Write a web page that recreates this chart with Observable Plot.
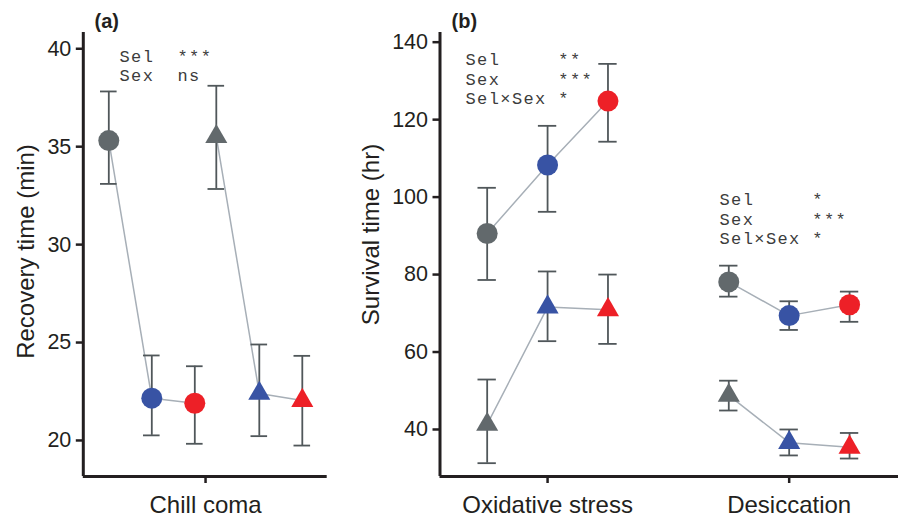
<!DOCTYPE html>
<html>
<head>
<meta charset="utf-8">
<script src="https://cdn.jsdelivr.net/npm/d3@7"></script>
<script src="https://cdn.jsdelivr.net/npm/@observablehq/plot@0.6"></script>
<style>
html, body { margin: 0; padding: 0; background: #fff; }
#chart { position: relative; width: 901px; height: 517px; overflow: hidden; }
#chart svg { position: absolute; top: 0; overflow: visible; }
#chart text { white-space: pre; }
</style>
</head>
<body>
<div id="chart"></div>
<script>
// ---------- data ----------
const selections = ["Control", "Selected A", "Selected B"];
const selectionColors = ["#62696c", "#3853a4", "#ed2027"];
const sexes = ["Female", "Male"]; // circles = Female, triangles = Male

// (a) Chill coma recovery time (min)
const chillFemaleMean = [35.31, 22.16, 21.90];
const chillFemaleLo   = [33.10, 20.26, 19.83];
const chillFemaleHi   = [37.82, 24.34, 23.79];
const chillMaleMean   = [35.51, 22.40, 22.04];
const chillMaleLo     = [32.84, 20.22, 19.74];
const chillMaleHi     = [38.11, 24.90, 24.32];

// (b) Oxidative stress survival time (hr)
const oxFemaleMean = [90.6, 108.3, 124.8];
const oxFemaleLo   = [78.6, 96.2, 114.3];
const oxFemaleHi   = [102.4, 118.4, 134.4];
const oxMaleMean   = [41.3, 71.6, 70.9];
const oxMaleLo     = [31.3, 62.8, 62.1];
const oxMaleHi     = [52.9, 80.8, 80.0];

// (b) Desiccation survival time (hr)
const desFemaleMean = [78.1, 69.4, 72.2];
const desFemaleLo   = [74.3, 65.7, 67.8];
const desFemaleHi   = [82.3, 73.1, 75.6];
const desMaleMean   = [48.8, 36.6, 35.4];
const desMaleLo     = [44.9, 33.3, 32.5];
const desMaleHi     = [52.6, 40.0, 39.1];

const panelATraits = ["Chill coma"];
const panelBTraits = ["Oxidative stress", "Desiccation"];
const panelAYTicks = [20, 25, 30, 35, 40];
const panelBYTicks = [40, 60, 80, 100, 120, 140];
const panelAYLabel = "Recovery time (min)";
const panelBYLabel = "Survival time (hr)";

const notesA  = "Sel  ***\nSex  ns";
const notesOx = "Sel     **\nSex     ***\nSel×Sex *";
const notesDe = "Sel     *\nSex     ***\nSel×Sex *";

// ---------- build tables ----------
function rows(trait, sex, mean, lo, hi) {
  return selections.map((s, i) => ({trait, sex, sel: s, i, mean: mean[i], lo: lo[i], hi: hi[i]}));
}
const dataA = [
  ...rows("Chill coma", "Female", chillFemaleMean, chillFemaleLo, chillFemaleHi),
  ...rows("Chill coma", "Male", chillMaleMean, chillMaleLo, chillMaleHi)
];
const dataB = [
  ...rows("Oxidative stress", "Female", oxFemaleMean, oxFemaleLo, oxFemaleHi),
  ...rows("Oxidative stress", "Male", oxMaleMean, oxMaleLo, oxMaleHi),
  ...rows("Desiccation", "Female", desFemaleMean, desFemaleLo, desFemaleHi),
  ...rows("Desiccation", "Male", desMaleMean, desMaleLo, desMaleHi)
];

const INK = "#231f20";
const EB = "#50575a";
const LINE = "#a7afb7";
const MONO = "'Liberation Mono', 'Courier New', monospace";

function makePanel(cfg) {
  const {data, xpos, xDomain, yDomain, yTicks, xTicks, xLabels, yLabel, yLabelDx, yLabelDy,
         tag, tagDx, notes, width, marginLeft, marginRight, capHalf} = cfg;
  const fem = data.filter(d => d.sex === "Female");
  const mal = data.filter(d => d.sex === "Male");
  return Plot.plot({
    width, height: 517,
    marginLeft, marginRight, marginTop: 32, marginBottom: 41,
    style: {fontFamily: "'Liberation Sans', Arial, sans-serif", color: INK, background: "transparent", overflow: "visible"},
    x: {type: "linear", domain: xDomain},
    y: {type: "linear", domain: yDomain},
    color: {domain: selections, range: selectionColors},
    marks: [
      Plot.line(data, {x: xpos, y: "mean", z: d => d.trait + "|" + d.sex, stroke: LINE, strokeWidth: 1.5}),
      Plot.ruleX(data, {x: xpos, y1: "lo", y2: "hi", stroke: EB, strokeWidth: 1.8}),
      Plot.ruleY(data, {y: "lo", x1: d => xpos(d) - capHalf, x2: d => xpos(d) + capHalf, stroke: EB, strokeWidth: 1.8}),
      Plot.ruleY(data, {y: "hi", x1: d => xpos(d) - capHalf, x2: d => xpos(d) + capHalf, stroke: EB, strokeWidth: 1.8}),
      Plot.dot(fem, {x: xpos, y: "mean", r: 10.5, symbol: "circle", fill: "sel", stroke: null}),
      Plot.dot(mal, {x: xpos, y: "mean", r: 8.2, symbol: "triangle", fill: "sel", stroke: null}),
      Plot.ruleX([xDomain[0]], {y1: yDomain[0], y2: yDomain[1], stroke: INK, strokeWidth: 3}),
      Plot.ruleY([yDomain[0]], {x1: xDomain[0], x2: xDomain[1], stroke: INK, strokeWidth: 3}),
      Plot.axisY(yTicks, {tickSize: 7, tickPadding: 5, fontSize: 21.5, strokeWidth: 2.5, label: null}),
      Plot.axisX(xTicks, {tickSize: 7, tickPadding: 12, fontSize: 24, strokeWidth: 2.5, label: null,
                          tickFormat: d => xLabels[xTicks.indexOf(d)]}),
      Plot.text([yLabel], {frameAnchor: "left", rotate: -90, textAnchor: "middle", lineAnchor: "bottom",
                           dx: yLabelDx, dy: yLabelDy, fontSize: 24, fill: INK}),
      Plot.text([tag], {frameAnchor: "top-left", textAnchor: "start", lineAnchor: "bottom", dx: tagDx, dy: -5,
                        fontSize: 20, fontWeight: "bold", fill: INK}),
      ...notes.map(n => Plot.text([n.text], {frameAnchor: "top-left", textAnchor: "start", lineAnchor: "top",
                        dx: n.dx, dy: n.dy, fontFamily: MONO,
                        fontSize: 17, lineHeight: 1.14, fill: "#3c3c3c"}))
    ]
  });
}

// panel (a): circles at 0,1,2 ; triangles shifted by 2.5 (layout offset)
const panelA = makePanel({
  data: dataA,
  xpos: d => d.i + (d.sex === "Male" ? 2.5 : 0),
  xDomain: [-0.593, 5.079],
  yDomain: [18.16, 40.83],
  yTicks: panelAYTicks,
  xTicks: [2.25],
  xLabels: panelATraits,
  yLabel: panelAYLabel, yLabelDx: -49.8, yLabelDy: -3,
  tag: "(a)", tagDx: 11.2,
  notes: [{text: notesA, dx: 36.2, dy: 15.8}],
  width: 340, marginLeft: 82.8, marginRight: 13.3,
  capHalf: 0.193
});
panelA.style.left = "0px";

// panel (b): traits 4 units apart, selections 1 unit apart
const panelB = makePanel({
  data: dataB,
  xpos: d => d.i + panelBTraits.indexOf(d.trait) * 4,
  xDomain: [-0.781, 6.81],
  yDomain: [27.86, 142.5],
  yTicks: panelBYTicks,
  xTicks: [1, 5],
  xLabels: panelBTraits,
  yLabel: panelBYLabel, yLabelDx: -61.5, yLabelDy: -20,
  tag: "(b)", tagDx: 11.5,
  notes: [{text: notesOx, dx: 25.5, dy: 19.2}, {text: notesDe, dx: 279.5, dy: 159.2}],
  width: 561, marginLeft: 99.5, marginRight: 3,
  capHalf: 0.152
});
panelB.style.left = "340px";

const chart = document.getElementById("chart");
chart.appendChild(panelA);
chart.appendChild(panelB);

// widen the monospace annotations to the reference's character pitch
chart.querySelectorAll("g[font-family]").forEach(g => {
  if (g.getAttribute("font-family").includes("Mono")) g.style.letterSpacing = "1.4px";
});
</script>
</body>
</html>
